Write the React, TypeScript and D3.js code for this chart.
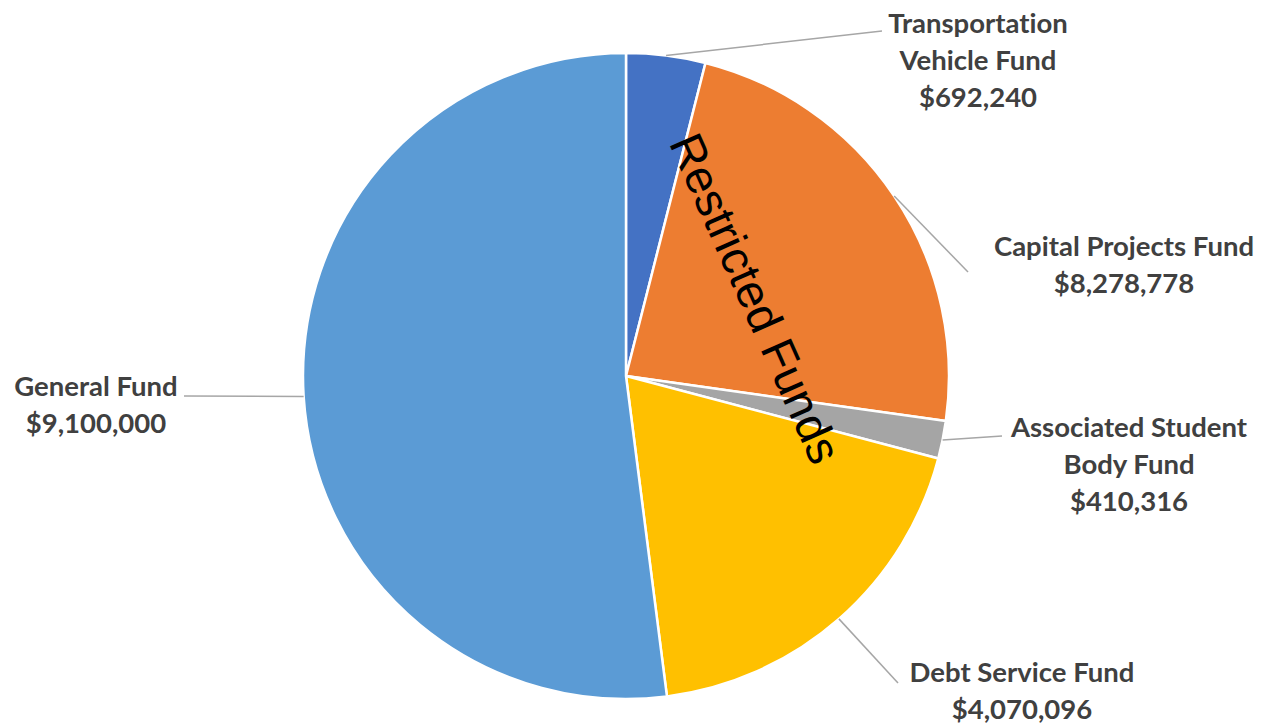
import { useEffect, useRef } from 'react';
import * as d3 from 'd3';

// slice sizes as drawn in the picture (the labels carry their own amounts)
const funds = ['Transportation Vehicle Fund', 'Capital Projects Fund', 'Associated Student Body Fund', 'Debt Service Fund', 'General Fund'];
const sliceValues = [692240, 4070096, 330000, 3300000, 9100000];
const labelLines = [
  ['Transportation', 'Vehicle Fund', '$692,240'],
  ['Capital Projects Fund', '$8,278,778'],
  ['Associated Student', 'Body Fund', '$410,316'],
  ['Debt Service Fund', '$4,070,096'],
  ['General Fund', '$9,100,000'],
];
const colors = ['#4472C4', '#ED7D31', '#A5A5A5', '#FFC000', '#5B9BD5'];

// label layout: text centre x, first baseline y, leader end point
const labelLayout = [
  { x: 978, y: 33, end: [[882, 31]] },
  { x: 1124, y: 256, end: [[968, 272]] },
  { x: 1129, y: 437, end: [[1002, 436]] },
  { x: 1022, y: 682, end: [[898, 683]] },
  { x: 96, y: 396, end: [[184, 396]] },
];

const W = 1268;
const H = 723;
const cx = 626;
const cy = 376;
const R = 323;

export default function App() {
  const svgRef = useRef<SVGSVGElement>(null);

  useEffect(() => {
    if (!svgRef.current) return;
    const svg = d3.select(svgRef.current);
    svg.selectAll('*').remove();

    const pie = d3.pie<number>().sort(null).value((d) => d);
    const arcs = pie(sliceValues);
    const arc = d3.arc<d3.PieArcDatum<number>>().innerRadius(0).outerRadius(R);

    const g = svg.append('g').attr('transform', `translate(${cx},${cy})`);

    g.selectAll('path.slice')
      .data(arcs)
      .join('path')
      .attr('class', 'slice')
      .attr('d', arc)
      .attr('fill', (d, i) => colors[i])
      .attr('stroke', '#fff')
      .attr('stroke-width', 2.5)
      .attr('stroke-linejoin', 'round');

    // leader lines from the slice rim at its mid angle
    arcs.forEach((d, i) => {
      const mid = (d.startAngle + d.endAngle) / 2;
      const sx = cx + R * Math.sin(mid);
      const sy = cy - R * Math.cos(mid);
      const pts: [number, number][] = [[sx, sy], ...(labelLayout[i].end as [number, number][])];
      svg.append('path')
        .attr('d', d3.line()(pts))
        .attr('fill', 'none')
        .attr('stroke', '#A6A6A6')
        .attr('stroke-width', 1.5);
    });

    labelLines.forEach((lines, i) => {
      const t = svg.append('text')
        .attr('text-anchor', 'middle')
        .attr('font-family', 'Lato, "Open Sans", sans-serif')
        .attr('font-weight', 700)
        .attr('font-size', 27.5)
        .style('font-variant-ligatures', 'none')
        .attr('fill', '#404040');
      lines.forEach((line, j) => {
        t.append('tspan')
          .attr('x', labelLayout[i].x)
          .attr('y', labelLayout[i].y + j * 37)
          .text(line);
      });
      t.append('title').text(funds[i]);
    });

    svg.append('text')
      .attr('transform', 'translate(752,300) rotate(66)')
      .attr('text-anchor', 'middle')
      .attr('dominant-baseline', 'middle')
      .attr('font-family', '"Liberation Sans", Arial, sans-serif')
      .attr('font-size', 47)
      .attr('fill', '#000')
      .text('Restricted Funds');
  }, []);

  return (
    <svg
      ref={svgRef}
      width={W}
      height={H}
      style={{ position: 'absolute', left: 0, top: 0, background: '#fff' }}
    />
  );
}
